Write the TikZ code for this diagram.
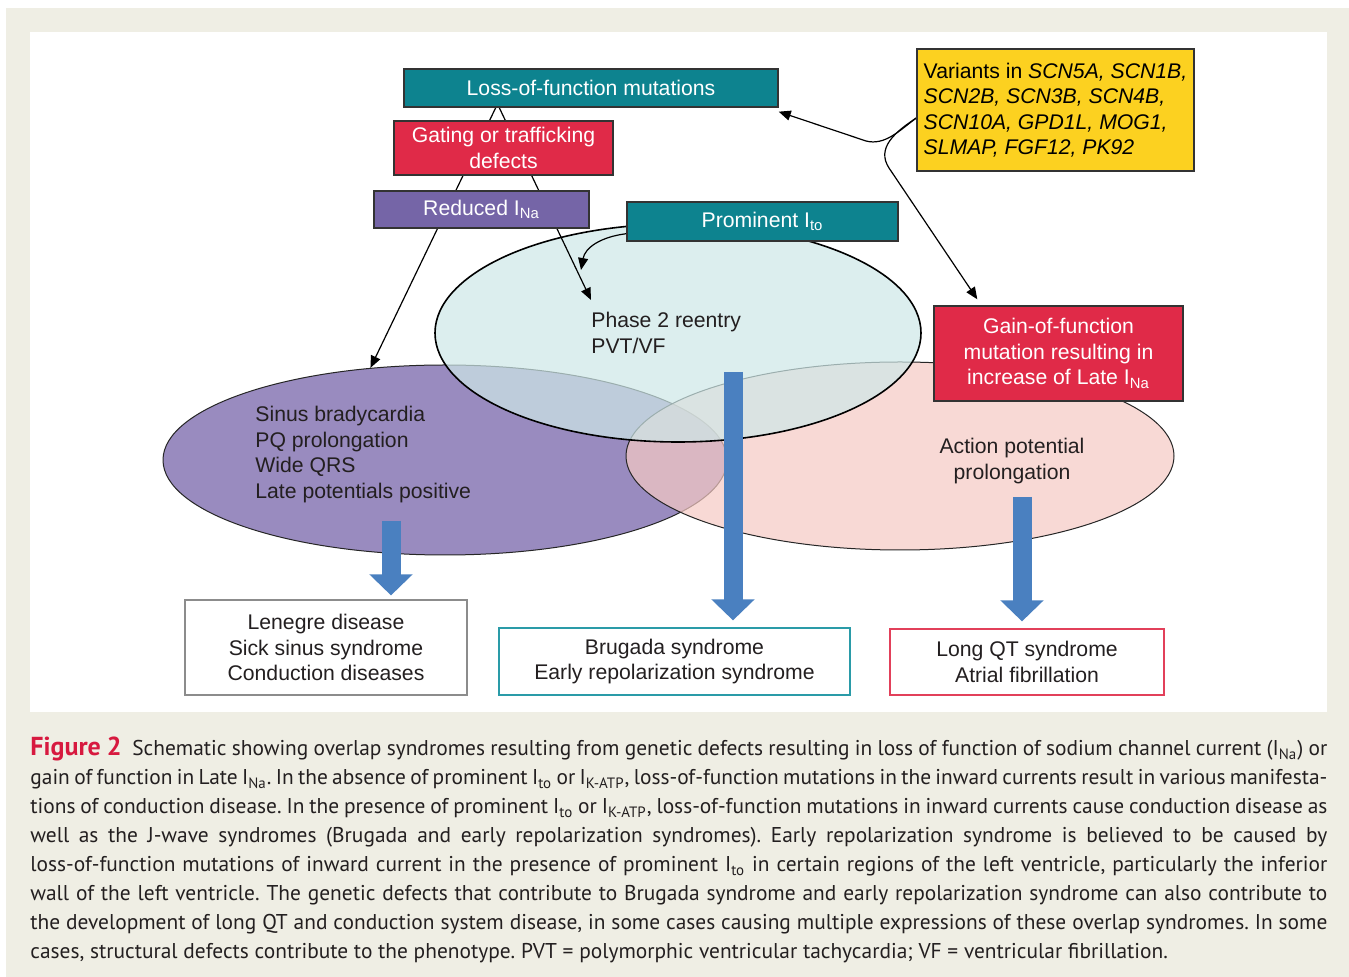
\documentclass[tikz,border=0pt]{standalone}
\usepackage{fontspec}
\setmainfont{Liberation Sans}
\newfontfamily\captionfont{PT Sans}
\usetikzlibrary{arrows.meta, calc, positioning, shapes.geometric, backgrounds}
\definecolor{paneltan}{RGB}{239,238,228}
\definecolor{boxteal}{RGB}{13,131,143}
\definecolor{boxred}{RGB}{224,42,72}
\definecolor{boxpurple}{RGB}{117,101,167}
\definecolor{boxyellow}{RGB}{252,209,32}
\definecolor{ovalpurple}{RGB}{111,91,165}
\definecolor{ovalcyan}{RGB}{206,232,232}
\definecolor{ovalpink}{RGB}{246,202,196}
\definecolor{arrowblue}{RGB}{74,128,192}
\definecolor{capred}{RGB}{215,25,63}
\definecolor{captext}{RGB}{35,31,32}
\definecolor{edgegray}{RGB}{140,140,140}
\definecolor{edgeteal}{RGB}{42,155,168}
\definecolor{edgered}{RGB}{226,64,90}

\begin{document}
\begin{tikzpicture}[x=0.5pt, y=-0.5pt, >={Triangle[length=6pt,width=5pt]},
    font=\fontsize{10.6}{12.75}\selectfont,
    colbox/.style={draw=black!80, line width=0.7pt, text=white, align=center, inner sep=0pt},
    outbox/.style={draw, line width=0.6pt, fill=white, text=captext, align=center, inner sep=0pt},
    oval/.style={ellipse, inner sep=0pt, fill opacity=0.7},
    ovaltext/.style={inner sep=0pt, text=captext},
    link/.style={->, line width=0.6pt, black},
    fatarrow/.style={draw=arrowblue, line width=9.5pt, -{Triangle[width=21pt,length=10.5pt]}}]
  \useasboundingbox (0,0) rectangle (1349,977);

  % Page and ovals
  \begin{scope}[on background layer]
    \fill[white] (0,0) rectangle (1349,977);
    \fill[paneltan] (6,8) rectangle (1349,977);
    \fill[white] (30,32) rectangle (1327,712);
    \node[oval, fill=ovalpurple, draw=black!85, line width=0.5pt,
      minimum width=282pt, minimum height=95pt] (purp) at (445,460) {};
    \node[oval, fill=ovalpink, draw=black!85, line width=0.5pt,
      minimum width=274pt, minimum height=94pt] (pink) at (900,456) {};
    \node[oval, fill=ovalcyan, draw=black, line width=0.8pt,
      minimum width=243pt, minimum height=109pt] (cyan) at (678,333) {};
  \end{scope}

  % Oval texts
  \node[ovaltext, anchor=north west, align=left] (phase) at (591,312)
    {Phase 2 reentry\\PVT/VF};
  \node[ovaltext, anchor=north west, align=left] (conduct) at (255,406)
    {Sinus bradycardia\\PQ prolongation\\Wide QRS\\Late potentials positive};
  \node[ovaltext, align=center] (apd) at (1012,461)
    {Action potential\\prolongation};

  % Mechanism boxes
  \node[colbox, fill=boxteal, minimum width=187pt, minimum height=19pt] (loss) at (591,88)
    {Loss-of-function mutations};
  \node[colbox, fill=boxred, minimum width=109.5pt, minimum height=27pt] (gating) at (503.5,148)
    {Gating or trafficking\\defects};
  \node[colbox, fill=boxpurple, minimum width=107.5pt, minimum height=18.5pt] (reduced) at (481.5,209.5)
    {Reduced I\textsubscript{Na}};
  \node[colbox, fill=boxteal, minimum width=135.5pt, minimum height=19.5pt] (prom) at (762.5,221.5)
    {Prominent I\textsubscript{to}};
  \node[colbox, fill=boxyellow, text=black, align=left, minimum width=138.5pt,
    minimum height=61pt] (variants) at (1055.5,110)
    {Variants in \textit{SCN5A, SCN1B,}\\\textit{SCN2B, SCN3B, SCN4B,}\\
     \textit{SCN10A, GPD1L, MOG1,}\\\textit{SLMAP, FGF12, PK92}};
  \node[colbox, fill=boxred, minimum width=124.5pt, minimum height=47.5pt] (gain) at (1058.5,353.5)
    {Gain-of-function\\mutation resulting in\\increase of Late I\textsubscript{Na}};

  % Thin connectors
  \coordinate (split) at (497.5,104);
  \coordinate (itoend) at (581,270);
  \begin{scope}[on background layer]
    \draw[link] (split) -- (purp.129);
    \draw[link] (split) -- ([yshift=6pt]phase.north west);
    \draw[link] ([yshift=4pt]prom.south west) .. controls (600,237) and (585,248) .. (itoend);
    \draw[link] ([yshift=-4pt]variants.west) .. controls (900,130) and (885,146) .. (866,141)
      -- ([yshift=-2pt]loss.south east);
    \draw[link] ([yshift=-4pt]variants.west) .. controls (895,132) and (876,148) .. (889,168)
      -- ([xshift=22pt,yshift=3pt]gain.north west);
  \end{scope}

  % Outcome boxes
  \node[outbox, draw=edgegray, minimum width=141pt, minimum height=47.5pt] (lenegre) at (326,647.5)
    {Lenegre disease\\Sick sinus syndrome\\Conduction diseases};
  \node[outbox, draw=edgeteal, minimum width=175.5pt, minimum height=33.5pt] (brugada) at (674.5,661.5)
    {Brugada syndrome\\Early repolarization syndrome};
  \node[outbox, draw=edgered, minimum width=137pt, minimum height=33pt] (longqt) at (1027,662)
    {Long QT syndrome\\Atrial fibrillation};

  % Block arrows
  \coordinate (a1) at (391,521);
  \coordinate (a2) at (733,372);
  \coordinate (a3) at (1022,497);
  \draw[fatarrow, shorten >=2pt] (a1) -- (a1 |- lenegre.north);
  \draw[fatarrow, shorten >=3.5pt] (a2) -- (a2 |- brugada.north);
  \draw[fatarrow, shorten >=3.5pt] (a3) -- (a3 |- longqt.north);

  % Caption
  \node[anchor=north west, inner sep=0pt, text width=648.5pt, align=justify, text=captext,
    font=\captionfont\fontsize{10.7}{14.5}\selectfont] (caption) at (30,737)
    {\frenchspacing\hyphenpenalty=10000\exhyphenpenalty=10000%
     {\bfseries\color{capred}\fontsize{13}{14.5}\selectfont Figure 2}\enspace Schematic showing overlap syndromes resulting from genetic defects resulting in loss of function of sodium channel current (I\textsubscript{Na}) or\linebreak
     gain of function in Late I\textsubscript{Na}. In the absence of prominent I\textsubscript{to} or I\textsubscript{K-ATP}, loss-of-function mutations in the inward currents result in various manifesta-\linebreak
     tions of conduction disease. In the presence of prominent I\textsubscript{to} or I\textsubscript{K-ATP}, loss-of-function mutations in inward currents cause conduction disease as\linebreak
     well as the J-wave syndromes (Brugada and early repolarization syndromes). Early repolarization syndrome is believed to be caused by\linebreak
     loss-of-function mutations of inward current in the presence of prominent I\textsubscript{to} in certain regions of the left ventricle, particularly the inferior\linebreak
     wall of the left ventricle. The genetic defects that contribute to Brugada syndrome and early repolarization syndrome can also contribute to\linebreak
     the development of long QT and conduction system disease, in some cases causing multiple expressions of these overlap syndromes. In some\linebreak
     cases, structural defects contribute to the phenotype. PVT = polymorphic ventricular tachycardia; VF = ventricular fibrillation.};
\end{tikzpicture}
\end{document}
